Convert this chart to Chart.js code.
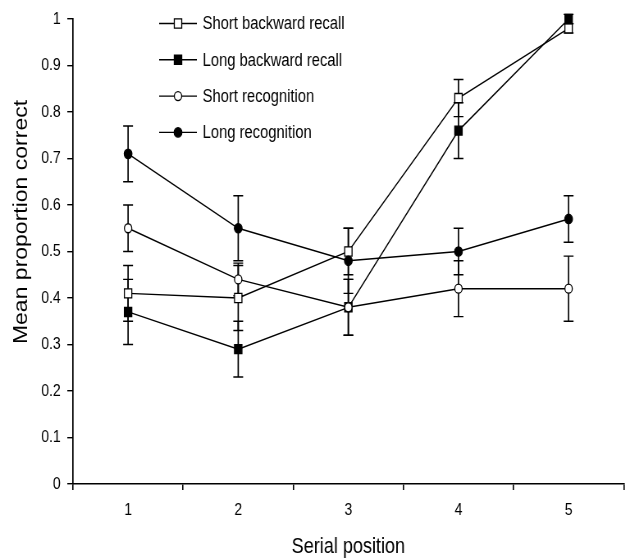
<!DOCTYPE html>
<html>
<head>
<meta charset="utf-8">
<script src="https://cdn.jsdelivr.net/npm/chart.js@4.4.1/dist/chart.umd.min.js"></script>
<style>
    html, body { margin: 0; background: #fff; overflow: hidden; }
    /* the figure is horizontally narrow, so the canvas is drawn wider and squeezed */
    #wrap { width: 768px; height: 560px; position: relative; transform: scaleX(0.8203); transform-origin: 0 0; }
</style>
</head>
<body>
<div id="wrap"><canvas id="myChart"></canvas></div>
<script>
// serial positions on the x axis
const positions = ['1', '2', '3', '4', '5']

// means
const shortBackward = [0.41, 0.40, 0.50, 0.83, 0.98]
const longBackward = [0.37, 0.29, 0.38, 0.76, 1.00]
const shortRecog = [0.55, 0.44, 0.38, 0.42, 0.42]
const longRecog = [0.71, 0.55, 0.48, 0.50, 0.57]

// error bar half lengths
const shortBackwardErr = [0.06, 0.07, 0.05, 0.04, 0.01]
const longBackwardErr = [0.07, 0.06, 0.06, 0.06, 0.01]
const shortRecogErr = [0.05, 0.035, 0.06, 0.06, 0.07]
const longRecogErr = [0.06, 0.07, 0.07, 0.05, 0.05]

const seriesNames = ['Short backward recall', 'Long backward recall', 'Short recognition', 'Long recognition']

const FONT = "'Liberation Sans', Arial, sans-serif"
Chart.defaults.font.family = FONT
Chart.defaults.color = '#000'

function makeSet(name, values, errs, style, filled, radius, order) {
    return {
        label: name,
        data: values,
        errors: errs,
        borderColor: '#000',
        borderWidth: 1.4,
        pointStyle: style,
        pointRadius: radius,
        pointHoverRadius: radius,
        pointBackgroundColor: filled ? '#000' : '#fff',
        pointBorderColor: '#000',
        pointBorderWidth: 1.3,
        tension: 0,
        clip: false,
        order: order
    }
}

// vertical error bars, drawn under the markers
const errorBars = {
    id: 'errorBars',
    beforeDatasetsDraw(chart) {
        const ctx = chart.ctx
        const yScale = chart.scales.y
        ctx.save()
        ctx.strokeStyle = '#000'
        chart.data.datasets.forEach((ds, i) => {
            const meta = chart.getDatasetMeta(i)
            meta.data.forEach((pt, j) => {
                const hi = yScale.getPixelForValue(ds.data[j] + ds.errors[j])
                const lo = yScale.getPixelForValue(ds.data[j] - ds.errors[j])
                ctx.lineWidth = 1.7
                ctx.beginPath()
                ctx.moveTo(pt.x, hi); ctx.lineTo(pt.x, lo)
                ctx.stroke()
                ctx.lineWidth = 1.4
                ctx.beginPath()
                ctx.moveTo(pt.x - 6, hi); ctx.lineTo(pt.x + 6, hi)
                ctx.moveTo(pt.x - 6, lo); ctx.lineTo(pt.x + 6, lo)
                ctx.stroke()
            })
        })
        ctx.restore()
    }
}

// legend with line + marker inside the plot, and the y title
const sideBits = {
    id: 'sideBits',
    afterDraw(chart) {
        const ctx = chart.ctx
        const area = chart.chartArea
        ctx.save()
        chart.data.datasets.forEach((ds, i) => {
            const y = area.top + 4.5 + i * 36.3
            const x0 = area.left + 105
            ctx.strokeStyle = '#000'
            ctx.lineWidth = 1.4
            ctx.beginPath()
            ctx.moveTo(x0, y); ctx.lineTo(x0 + 46, y)
            ctx.stroke()
            ctx.fillStyle = ds.pointBackgroundColor
            ctx.lineWidth = ds.pointBorderWidth
            Chart.helpers.drawPoint(ctx, { pointStyle: ds.pointStyle, radius: ds.pointRadius, borderWidth: ds.pointBorderWidth, rotation: 0 }, x0 + 23, y)
            ctx.fillStyle = '#000'
            ctx.font = '18px ' + FONT
            ctx.textBaseline = 'middle'
            ctx.textAlign = 'left'
            ctx.fillText(ds.label, x0 + 53, y + 1)
        })
        ctx.translate(27, 222)
        ctx.rotate(-Math.PI / 2)
        ctx.textAlign = 'center'
        ctx.textBaseline = 'middle'
        ctx.font = '23px ' + FONT
        ctx.fillText('Mean proportion correct', 0, 0)
        ctx.restore()
    }
}

function BuildChart() {
    const ctx = document.getElementById('myChart')
    return new Chart(ctx, {
        type: 'line',
        data: {
            labels: positions,
            datasets: [
                makeSet(seriesNames[0], shortBackward, shortBackwardErr, 'rect', false, 6.4, 3),
                makeSet(seriesNames[1], longBackward, longBackwardErr, 'rect', true, 6.4, 2),
                makeSet(seriesNames[2], shortRecog, shortRecogErr, 'circle', false, 4.5, 0),
                makeSet(seriesNames[3], longRecog, longRecogErr, 'circle', true, 4.7, 1)
            ]
        },
        options: {
            responsive: true,
            maintainAspectRatio: false,
            animation: false,
            layout: { padding: { top: 19, right: 2, left: 0, bottom: 0 } },
            plugins: {
                legend: { display: false },
                tooltip: { enabled: false }
            },
            scales: {
                x: {
                    offset: true,
                    ticks: { font: { size: 17 }, padding: 10 },
                    grid: { offset: true, drawOnChartArea: false, color: '#000', tickLength: 6, lineWidth: 1.6 },
                    border: { color: '#000', width: 1.4 },
                    title: { display: true, text: 'Serial position', font: { size: 22 }, padding: { top: 4, bottom: 0 } },
                    afterFit(s) { s.height = 76 }
                },
                y: {
                    min: 0,
                    max: 1,
                    ticks: { stepSize: 0.1, font: { size: 17 }, padding: 8, callback: v => +v.toFixed(1) },
                    grid: { drawOnChartArea: false, color: '#000', tickLength: 7, lineWidth: 1.4 },
                    border: { color: '#000', width: 1.7 },
                    afterFit(s) { s.width = 89 }
                }
            }
        },
        plugins: [errorBars, sideBits]
    })
}

BuildChart()
</script>
</body>
</html>
